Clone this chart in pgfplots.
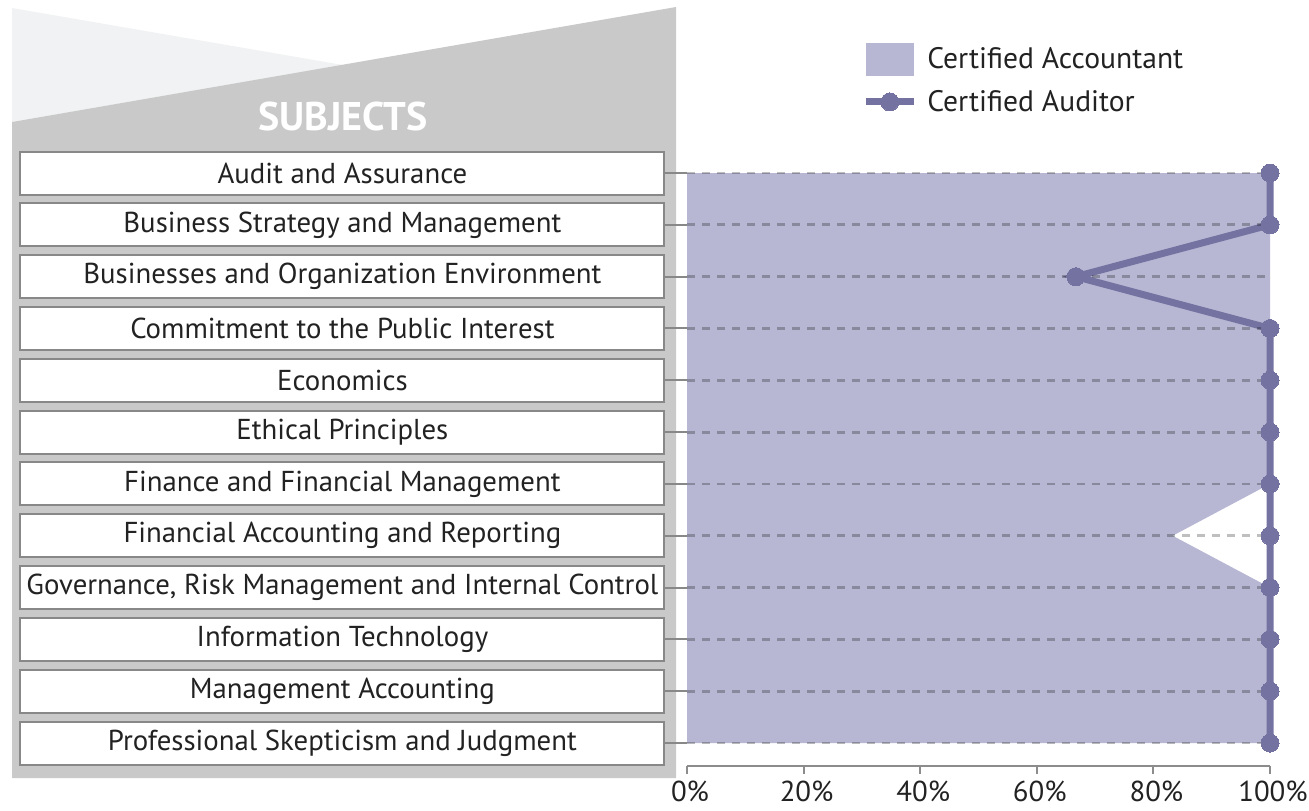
\documentclass[border=0pt]{standalone}
\usepackage{fontspec}
\setmainfont{PT Sans}
\usepackage{pgfplots}
\pgfplotsset{compat=1.18}
\definecolor{lav}{HTML}{B7B7D4}
\definecolor{aud}{HTML}{7472A0}
\definecolor{panel}{HTML}{C8C9C8}
\definecolor{panellight}{HTML}{F1F2F3}
\definecolor{boxline}{HTML}{888888}
\definecolor{axisgray}{HTML}{8C8C8C}
\definecolor{txt}{HTML}{222222}
\newcommand{\lblfont}{\fontsize{14.4}{16}\selectfont}
\pgfplotsset{
    swatch legend/.style={legend image code/.code={\fill[##1] (0pt,-8.25pt) rectangle (24pt,8.25pt);}},
    dotline legend/.style={legend image code/.code={\draw[mark repeat=2, mark phase=2, ##1]
        plot coordinates {(0pt,0pt) (12pt,0pt) (24pt,0pt)};}},
}

\begin{document}
\begin{tikzpicture}
\useasboundingbox (0pt,0pt) rectangle (654.5pt,-405pt);
\begin{scope}[x=0.5pt,y=-0.5pt]
% background panel behind the subject boxes
\fill[panellight] (12,8) -- (343,65) -- (12,122) -- cycle;
\fill[panel] (12,122) -- (676,7) -- (676,778) -- (12,778) -- cycle;
\node[text=white, font=\fontsize{20}{22}\selectfont\bfseries] at (343,116) {SUBJECTS};
\foreach \i in {0,...,11}
  \draw[boxline, line width=1pt] (665,173+51.82*\i) -- (687,173+51.82*\i);
\end{scope}

\begin{axis}[
    at={(343.5pt,-383pt)}, anchor=south west,
    scale only axis, width=291.5pt, height=296.5pt,
    xmin=0, xmax=100, ymin=0.556, ymax=12,
    clip=false, axis on top,
    axis x line*=bottom, axis y line*=left,
    y axis line style={draw=none},
    x axis line style={axisgray, line width=1pt},
    tick align=outside, major tick length=4pt,
    xtick style={axisgray, line width=1pt},
    ytick style={draw=none},
    xtick={0,20,...,100},
    xticklabel={\pgfmathprintnumber{\tick}\%},
    /pgf/number format/assume math mode=true,
    xticklabel style={font=\lblfont, text=txt, xshift=1.5pt, yshift=0pt},
    ytick={1,...,12},
    yticklabels={
        Professional Skepticism and Judgment,
        Management Accounting,
        Information Technology,
        {Governance, Risk Management and Internal Control},
        Financial Accounting and Reporting,
        Finance and Financial Management,
        Ethical Principles,
        Economics,
        Commitment to the Public Interest,
        Businesses and Organization Environment,
        Business Strategy and Management,
        Audit and Assurance},
    yticklabel style={draw=boxline, line width=1pt, fill=white, text=txt,
        minimum width=322pt, minimum height=21.5pt, inner sep=0pt,
        anchor=east, xshift=-6.8pt, font=\lblfont},
    ymajorgrids,
    grid style={black, opacity=0.25, line width=1.4pt, dash pattern=on 4pt off 3.5pt},
    legend style={at={(0.300,1.22)}, anchor=north west, draw=none, fill=none,
        font=\fontsize{14.8}{16}\selectfont, text=txt, row sep=5pt, inner sep=0pt,
        /tikz/every odd column/.append style={column sep=3pt}},
    legend cell align=left,
]
\addplot[fill=lav, draw=none, swatch legend]
  coordinates {
    (0,12) (100,12) (100,11) (100,10) (100,9) (100,8) (100,7)
    (100,6) (83.3,5) (100,4) (100,3) (100,2) (100,1) (0,1)
  } -- cycle;
\addlegendentry{Certified Accountant}
\addplot[aud, line width=3.5pt, mark=*, mark size=4.5pt,
    mark options={solid, fill=aud, draw=aud, line width=0pt}, dotline legend]
  coordinates {
    (100,12) (100,11) (66.7,10) (100,9) (100,8) (100,7)
    (100,6) (100,5) (100,4) (100,3) (100,2) (100,1)
  };
\addlegendentry{Certified Auditor}
\end{axis}
\end{tikzpicture}
\end{document}
